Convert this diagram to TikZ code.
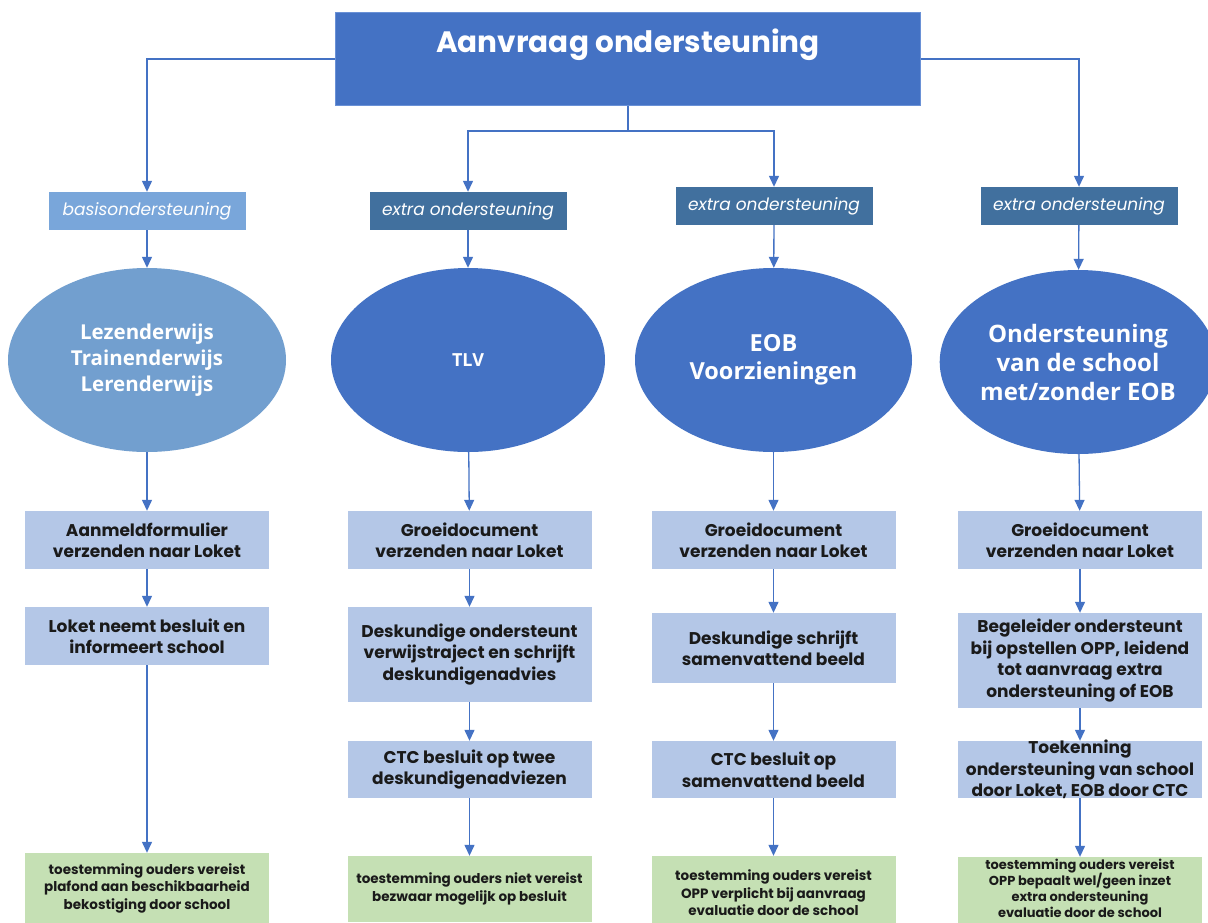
\documentclass[tikz,border=0pt]{standalone}
\usepackage{fontspec}
\setmainfont{Poppins}
\newfontfamily\ellfont{Open Sans}
\usetikzlibrary{arrows.meta,shapes.geometric}
\definecolor{topblue}{HTML}{4472C4}
\definecolor{topedge}{HTML}{6A91D6}
\definecolor{basislab}{HTML}{79A6DA}
\definecolor{basisell}{HTML}{729FCF}
\definecolor{extralab}{HTML}{41709E}
\definecolor{boxblue}{HTML}{B4C7E7}
\definecolor{boxgreen}{HTML}{C5E0B4}
\definecolor{arrowblue}{HTML}{4472C4}
\definecolor{boxtext}{HTML}{1A1A1A}
\begin{document}
\begin{tikzpicture}[x=1pt,y=-1pt,
  topbox/.style={rectangle, fill=topblue, draw=topedge, line width=0.8pt, minimum width=585pt, minimum height=93pt, inner sep=0pt},
  titletext/.style={text=white, font=\bfseries\fontsize{29.5}{34}\selectfont, inner sep=0pt},
  lab/.style={rectangle, minimum width=197pt, minimum height=38pt, inner sep=0pt, text=white, font=\itshape\fontsize{17}{20}\selectfont},
  ell/.style={ellipse, fill=topblue, minimum width=275pt, minimum height=184pt, inner sep=0pt, text=white, align=center},
  bbox/.style={rectangle, fill=boxblue, minimum width=244pt, inner sep=0pt, align=center, text=boxtext, font=\bfseries\fontsize{17}{21.5}\selectfont},
  gbox/.style={rectangle, fill=boxgreen, minimum width=244pt, inner sep=0pt, align=center, text=boxtext, font=\bfseries\fontsize{13.5}{17.5}\selectfont},
  arr/.style={draw=arrowblue, line width=1.3pt, -{Triangle[length=11pt,width=10pt]}},
  ln/.style={draw=arrowblue, line width=1.3pt}
]
\useasboundingbox (0,0) rectangle (1208,922);
\clip (0,0) rectangle (1208,922);
\fill[white] (0,0) rectangle (1208,922);

% top
\node[topbox] (top) at (628,59) {};
\node[titletext] (title) at (628,45) {Aanvraag ondersteuning};

% labels
\node[lab, fill=basislab] (lab1) at (147,211) {basisondersteuning};
\node[lab, fill=extralab] (lab2) at (468,211) {extra ondersteuning};
\node[lab, fill=extralab] (lab3) at (774,206) {extra ondersteuning};
\node[lab, fill=extralab] (lab4) at (1079,206) {extra ondersteuning};

\coordinate (split) at (628,131);
\draw[arr] (top.west) -| (lab1.north);
\draw[arr] (top.east) -| (lab4.north);
\draw[ln] (top.south) -- (split);
\draw[arr] (split) -| (lab2.north);
\draw[arr] (split) -| (lab3.north);

% ellipses
\node[ell, fill=basisell, minimum width=278pt, font=\ellfont\bfseries\fontsize{20.5}{26}\selectfont] (ell1) at (147,360) {Lezenderwijs\\Trainenderwijs\\Lerenderwijs};
\node[ell, minimum width=274pt, font=\ellfont\bfseries\fontsize{18}{22}\selectfont] (ell2) at (468,360) {TLV};
\node[ell, minimum width=277pt, font=\ellfont\bfseries\fontsize{23.5}{28}\selectfont] (ell3) at (773.5,360) {EOB\\Voorzieningen};
\node[ell, minimum width=274pt, font=\ellfont\bfseries\fontsize{24}{29}\selectfont] (ell4) at (1078,362) {Ondersteuning\\van de school\\met/zonder EOB};

\draw[arr] (lab1) -- (ell1);
\draw[arr] (lab2) -- (ell2);
\draw[arr] (lab3) -- (ell3);
\draw[arr] (lab4) -- (ell4);

% column 1
\node[bbox, minimum height=58pt] (b1a) at (147,540) {Aanmeldformulier\\verzenden naar Loket};
\node[bbox, minimum height=58pt] (b1b) at (147,636) {Loket neemt besluit en\\informeert school};
\node[gbox, minimum height=70pt] (g1) at (147,888) {toestemming ouders vereist\\plafond aan beschikbaarheid\\bekostiging door school};

% column 2
\node[bbox, minimum height=58pt] (b2a) at (469.5,540) {Groeidocument\\verzenden naar Loket};
\node[bbox, minimum height=95pt] (b2b) at (469.5,654.5) {Deskundige ondersteunt\\verwijstraject en schrijft\\deskundigenadvies};
\node[bbox, minimum height=57pt] (b2c) at (469.5,769.5) {CTC besluit op twee\\deskundigenadviezen};
\node[gbox, minimum height=66pt] (g2) at (469.5,889) {toestemming ouders niet vereist\\bezwaar mogelijk op besluit};

% column 3
\node[bbox, minimum height=58pt] (b3a) at (773.5,540) {Groeidocument\\verzenden naar Loket};
\node[bbox, minimum height=70pt] (b3b) at (773.5,648) {Deskundige schrijft\\samenvattend beeld};
\node[bbox, minimum height=57pt] (b3c) at (773.5,769.5) {CTC besluit op\\samenvattend beeld};
\node[gbox, minimum height=74pt] (g3) at (773.5,893) {toestemming ouders vereist\\OPP verplicht bij aanvraag\\evaluatie door de school};

% column 4
\node[bbox, minimum height=58pt] (b4a) at (1080,540) {Groeidocument\\verzenden naar Loket};
\node[bbox, minimum height=95pt] (b4b) at (1080,660.5) {Begeleider ondersteunt\\bij opstellen OPP, leidend\\tot aanvraag extra\\ondersteuning of EOB};
\node[bbox, minimum height=57pt] (b4c) at (1080,769.5) {};
\node[bbox, fill=none] (t4c) at (b4c.center) {Toekenning\\ondersteuning van school\\door Loket, EOB door CTC};
\node[gbox, minimum height=70pt] (g4) at (1080,892) {};
\node[gbox, fill=none, font=\bfseries\fontsize{13}{16}\selectfont] (t4g) at (1080,888.5) {toestemming ouders vereist\\OPP bepaalt wel/geen inzet\\extra ondersteuning\\evaluatie door de school};

% arrows
\draw[arr] (ell1) -- (b1a);
\draw[arr] (b1a) -- (b1b);
\draw[arr] (b1b) -- (g1);

\draw[arr] (ell2) -- (b2a);
\draw[arr] (b2a) -- (b2b);
\draw[arr] (b2b) -- (b2c);
\draw[arr] (b2c) -- (g2);

\draw[arr] (ell3) -- (b3a);
\draw[arr] (b3a) -- (b3b);
\draw[arr] (b3b) -- (b3c);
\draw[arr] (b3c) -- (g3);

\draw[arr] (ell4) -- (b4a);
\draw[arr] (b4a) -- (b4b);
\draw[arr] (b4b) -- (b4c);
\draw[arr] (b4c) -- (g4);
\end{tikzpicture}
\end{document}
